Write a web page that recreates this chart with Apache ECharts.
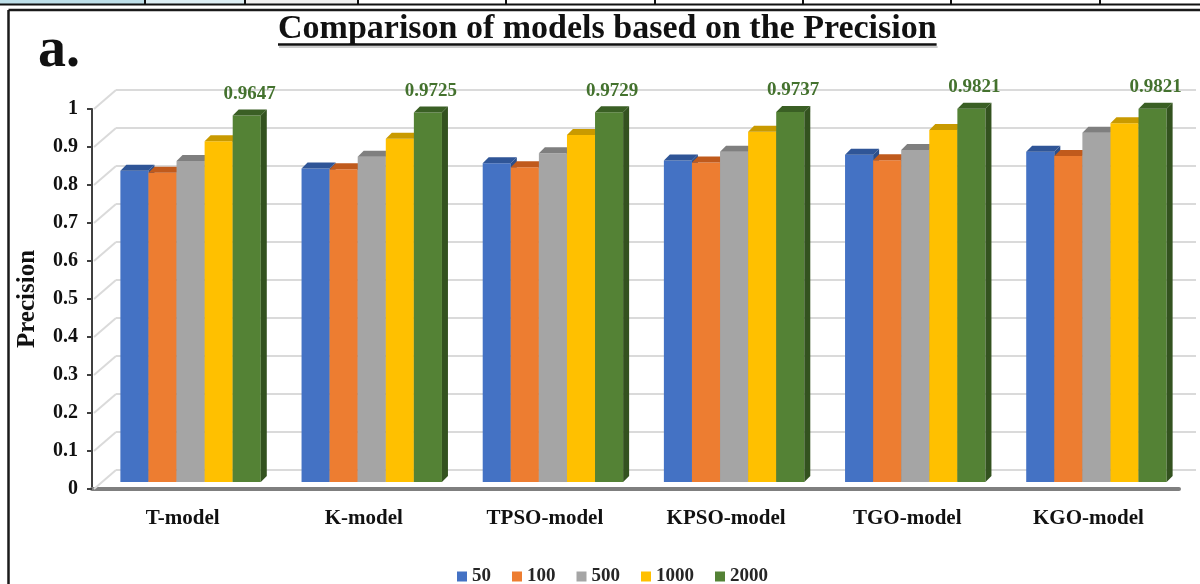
<!DOCTYPE html>
<html>
<head>
<meta charset="utf-8">
<script src="https://cdn.jsdelivr.net/npm/echarts@6/dist/echarts.min.js"></script>
<style>
  html, body { margin: 0; padding: 0; background: #ffffff; }
  #main { width: 1200px; height: 584px; }
</style>
</head>
<body>
<div id="main"></div>
<script>
// Models compared
const categories = ['T-model', 'K-model', 'TPSO-model', 'KPSO-model', 'TGO-model', 'KGO-model'];
// Training-set sizes (one series each)
const sizeNames = ['50', '100', '500', '1000', '2000'];
// Precision per model for each size
const prec50   = [0.819, 0.825, 0.839, 0.846, 0.861, 0.869];
const prec100  = [0.814, 0.823, 0.828, 0.841, 0.847, 0.858];
const prec500  = [0.845, 0.856, 0.865, 0.869, 0.874, 0.919];
const prec1000 = [0.897, 0.903, 0.913, 0.922, 0.926, 0.944];
const prec2000 = [0.9647, 0.9725, 0.9729, 0.9737, 0.9821, 0.9821];
// Value-axis ticks and their labels
const yTicks = [0, 0.1, 0.2, 0.3, 0.4, 0.5, 0.6, 0.7, 0.8, 0.9, 1];
const yTickLabels = ['0', '0.1', '0.2', '0.3', '0.4', '0.5', '0.6', '0.7', '0.8', '0.9', '1'];

const seriesValues = [prec50, prec100, prec500, prec1000, prec2000];

const SERIF = '"Liberation Serif", "Times New Roman", serif';
const FRONT = ['#4472C4', '#ED7D31', '#A5A5A5', '#FFC000', '#548235'];
const TOP   = ['#2F5597', '#C05A1C', '#7F7F7F', '#C99A00', '#3A5F24'];
const SIDE  = ['#2B4F8C', '#A9501A', '#737373', '#B38900', '#33521F'];

// 3D look: bars sit at mid depth, back wall sits deeper
const MID_DX = 8, MID_DY = -7;     // shift of bars relative to the front axes
const DEPTH_DX = 6, DEPTH_DY = -6; // bar thickness (top / side faces)
const WALL_DX = 24, WALL_DY = -19; // back wall offset

function makeBar(i) {
  return function (params, api) {
    const cat = api.value(0);
    const v = api.value(1);
    const top = api.coord([cat, v]);
    const base = api.coord([cat, 0]);
    const band = api.size([1, 0])[0];
    const w = band * 0.155;
    const x0 = top[0] + MID_DX - 2.5 * w + i * w;
    const yTop = top[1] + MID_DY;
    const yBase = base[1] + MID_DY;
    const children = [
      { type: 'rect', shape: { x: x0, y: yTop, width: w, height: yBase - yTop },
        style: { fill: FRONT[i] } },
      { type: 'polygon', shape: { points: [[x0, yTop], [x0 + w, yTop], [x0 + w + DEPTH_DX, yTop + DEPTH_DY], [x0 + DEPTH_DX, yTop + DEPTH_DY]] },
        style: { fill: TOP[i] } },
      { type: 'polygon', shape: { points: [[x0 + w, yTop], [x0 + w + DEPTH_DX, yTop + DEPTH_DY], [x0 + w + DEPTH_DX, yBase + DEPTH_DY], [x0 + w, yBase]] },
        style: { fill: SIDE[i] } }
    ];
    if (i === seriesValues.length - 1) {
      children.push({
        type: 'text',
        x: x0 + w / 2 + DEPTH_DX / 2,
        y: yTop + DEPTH_DY - 6,
        style: {
          text: v.toFixed(4),
          font: 'bold 19px ' + SERIF,
          fill: '#44722E',
          align: 'center',
          verticalAlign: 'bottom'
        }
      });
    }
    return { type: 'group', children: children };
  };
}

// Title text width, for the underline
const TITLE = 'Comparison of models based on the Precision';
const TITLE_FONT_SIZE = 34;
const measureCtx = document.createElement('canvas').getContext('2d');
measureCtx.font = 'bold ' + TITLE_FONT_SIZE + 'px ' + SERIF;
const titleW = measureCtx.measureText(TITLE).width;
const titleLeft = Math.round(607 - titleW / 2);

const chart = echarts.init(document.getElementById('main'), null, { renderer: 'canvas' });

const barSeries = sizeNames.map(function (name, i) {
  return {
    type: 'custom',
    name: name,
    xAxisIndex: 0,
    yAxisIndex: 0,
    z: 3,
    itemStyle: { color: FRONT[i] },
    encode: { x: 0, y: 1 },
    data: seriesValues[i].map(function (v, k) { return [k, v]; }),
    renderItem: makeBar(i)
  };
});

// Side-wall lines joining the front axis ticks to the back wall gridlines
const wallSeries = {
  type: 'custom',
  xAxisIndex: 0,
  yAxisIndex: 0,
  silent: true,
  z: 1,
  encode: { x: 0, y: 1 },
  data: yTicks.map(function (t) { return [0, t]; }),
  renderItem: function (params, api) {
    const p = api.coord([0, api.value(1)]);
    const x = params.coordSys.x;
    return {
      type: 'line',
      shape: { x1: x + 2, y1: p[1], x2: x + WALL_DX, y2: p[1] + WALL_DY },
      style: { stroke: '#DADADA', lineWidth: 2 }
    };
  }
};

const option = {
  backgroundColor: '#ffffff',
  animation: false,
  title: {
    text: TITLE,
    left: titleLeft,
    top: 12,
    padding: 0,
    textStyle: { fontFamily: SERIF, fontWeight: 'bold', fontSize: TITLE_FONT_SIZE, color: '#111111' }
  },
  legend: {
    data: sizeNames,
    left: 452,
    top: 562,
    icon: 'rect',
    itemWidth: 10,
    itemHeight: 10,
    itemGap: 21,
    textStyle: { fontFamily: SERIF, fontWeight: 'bold', fontSize: 19, color: '#262626' }
  },
  grid: [
    { left: 92, right: 21, top: 109, bottom: 95 },
    { left: 92 + WALL_DX, right: 4, top: 109 + WALL_DY, bottom: 95 - WALL_DY }
  ],
  xAxis: [
    {
      type: 'category',
      gridIndex: 0,
      data: categories,
      axisLine: { show: true, lineStyle: { color: '#7F7F7F', width: 4 } },
      axisTick: { show: false },
      axisLabel: { margin: 19, fontFamily: SERIF, fontWeight: 'bold', fontSize: 21, color: '#111111' }
    },
    { type: 'category', gridIndex: 1, data: categories, show: false }
  ],
  yAxis: [
    {
      type: 'value',
      gridIndex: 0,
      min: 0,
      max: 1,
      interval: 0.1,
      name: 'Precision',
      nameLocation: 'middle',
      nameGap: 52,
      nameTextStyle: { fontFamily: SERIF, fontWeight: 'bold', fontSize: 25, color: '#111111' },
      axisLine: { show: true, lineStyle: { color: '#404040', width: 2 } },
      axisTick: { show: true, length: 5, lineStyle: { color: '#404040', width: 2 } },
      splitLine: { show: false },
      axisLabel: {
        margin: 14,
        fontFamily: SERIF, fontWeight: 'bold', fontSize: 20, color: '#111111',
        formatter: function (v, idx) { return yTickLabels[idx]; }
      }
    },
    {
      type: 'value',
      gridIndex: 1,
      min: 0,
      max: 1,
      interval: 0.1,
      axisLine: { show: false },
      axisTick: { show: false },
      axisLabel: { show: false },
      splitLine: { show: true, lineStyle: { color: '#DADADA', width: 2 } }
    }
  ],
  graphic: [
    // table row above the figure
    { type: 'rect', shape: { x: 0, y: 0, width: 145, height: 4.5 }, style: { fill: '#BDDFE9' }, silent: true },
    { type: 'rect', shape: { x: 145, y: 0, width: 100, height: 4.5 }, style: { fill: '#DCEEF4' }, silent: true },
    { type: 'rect', shape: { x: 245, y: 0, width: 113, height: 4.5 }, style: { fill: '#F1F1F1' }, silent: true },
    { type: 'line', shape: { x1: 0, y1: 4.5, x2: 1200, y2: 4.5 }, style: { stroke: '#111111', lineWidth: 2 }, silent: true },
    { type: 'line', shape: { x1: 145, y1: 0, x2: 145, y2: 4.5 }, style: { stroke: '#111111', lineWidth: 2 }, silent: true },
    { type: 'line', shape: { x1: 245, y1: 0, x2: 245, y2: 4.5 }, style: { stroke: '#111111', lineWidth: 2 }, silent: true },
    { type: 'line', shape: { x1: 358, y1: 0, x2: 358, y2: 4.5 }, style: { stroke: '#111111', lineWidth: 2 }, silent: true },
    { type: 'line', shape: { x1: 506, y1: 0, x2: 506, y2: 4.5 }, style: { stroke: '#111111', lineWidth: 2 }, silent: true },
    { type: 'line', shape: { x1: 655, y1: 0, x2: 655, y2: 4.5 }, style: { stroke: '#111111', lineWidth: 2 }, silent: true },
    { type: 'line', shape: { x1: 803, y1: 0, x2: 803, y2: 4.5 }, style: { stroke: '#111111', lineWidth: 2 }, silent: true },
    { type: 'line', shape: { x1: 951, y1: 0, x2: 951, y2: 4.5 }, style: { stroke: '#111111', lineWidth: 2 }, silent: true },
    { type: 'line', shape: { x1: 1100, y1: 0, x2: 1100, y2: 4.5 }, style: { stroke: '#111111', lineWidth: 2 }, silent: true },
    // figure frame
    { type: 'line', shape: { x1: 8.5, y1: 10, x2: 1200, y2: 10 }, style: { stroke: '#1A1A1A', lineWidth: 2.5 }, silent: true },
    { type: 'line', shape: { x1: 8.5, y1: 10, x2: 8.5, y2: 584 }, style: { stroke: '#1A1A1A', lineWidth: 2.5 }, silent: true },
    // panel letter
    { type: 'text', left: 38, top: 24, style: { text: 'a.', font: 'bold 56px ' + SERIF, fill: '#111111' }, silent: true },
    // title underline
    { type: 'line', shape: { x1: titleLeft, y1: 44.5, x2: titleLeft + titleW, y2: 44.5 }, style: { stroke: '#111111', lineWidth: 2.5 }, silent: true },
    { type: 'line', shape: { x1: titleLeft + 1, y1: 47, x2: titleLeft + titleW + 1, y2: 47 }, style: { stroke: '#9A9A9A', lineWidth: 1.2 }, silent: true }
  ],
  series: [wallSeries].concat(barSeries)
};

chart.setOption(option);
</script>
</body>
</html>
